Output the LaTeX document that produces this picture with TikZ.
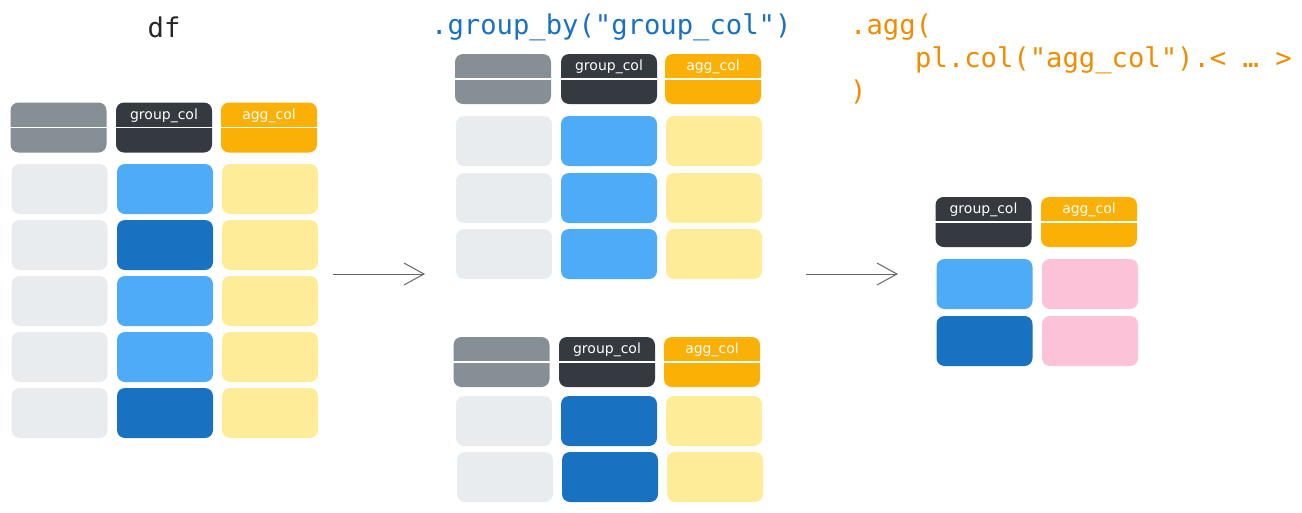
\documentclass[tikz,border=0pt]{standalone}
\usepackage{fontspec}
\setmonofont{DejaVu Sans Mono}
\setsansfont{DejaVu Sans}
\usetikzlibrary{arrows.meta}
\definecolor{hgray}{HTML}{868E96}
\definecolor{hdark}{HTML}{343A40}
\definecolor{horange}{HTML}{FAB005}
\definecolor{clight}{HTML}{E9ECEF}
\definecolor{cblue}{HTML}{4DABF7}
\definecolor{cdblue}{HTML}{1971C2}
\definecolor{cyellow}{HTML}{FFEC99}
\definecolor{cpink}{HTML}{FCC2D7}
\definecolor{tblue}{HTML}{1971C2}
\definecolor{torange}{HTML}{F08C00}
\definecolor{arrowgray}{HTML}{666666}
\tikzset{
  cellbox/.style={draw=none, rounded corners=8pt, inner sep=0pt, minimum width=96pt, minimum height=50pt},
  hdrline/.style={draw=white, line width=1.6pt},
  hdrtext/.style={text=white, font=\sffamily\fontsize{14}{14}\selectfont, inner sep=0pt},
  codetext/.style={font=\ttfamily\fontsize{27.2}{33}\selectfont, inner sep=0pt, anchor=west},
  flow/.style={draw=arrowgray, line width=0.9pt, -{Straight Barb[length=20pt,width=22pt,line width=1pt]}}
}
\newcommand{\hdr}[5]{% name, cx, cy, color, text
  \node[cellbox, fill=#4] (#1) at (#2,#3) {};
  \draw[hdrline] (#1.west) -- (#1.east);
  \node[hdrtext] (#1t) at ([yshift=12pt]#1.center) {#5};
}
\begin{document}
\begin{tikzpicture}[x=1pt,y=-1pt]
\useasboundingbox (0,0) rectangle (1302,512);
% ---------- titles
\node[codetext, anchor=center, text=black!85] (tdf) at (164,27) {df};
\node[codetext, text=tblue] (tgb) at (431,27) {.group\_by("group\_col")};
\node[codetext, text=torange] (tagg1) at (850,27) {.agg(};
\node[codetext, text=torange] (tagg2) at (915,60) {pl.col("agg\_col").<\ …\ >};
\node[codetext, text=torange] (tagg3) at (850,92) {)};
% ---------- df table
\hdr{da}{58.5}{127.5}{hgray}{}
\hdr{db}{164}{127.5}{hdark}{group\_col}
\hdr{dc}{269}{127.5}{horange}{agg\_col}
\foreach \r/\y/\c in {1/189/cblue,2/245/cdblue,3/301/cblue,4/357/cblue,5/413/cdblue}{
  \node[cellbox, fill=clight] (d\r a) at (59.5,\y) {};
  \node[cellbox, fill=\c] (d\r b) at (165,\y) {};
  \node[cellbox, fill=cyellow] (d\r c) at (270,\y) {};
}
% ---------- group 1
\hdr{ga}{503}{79}{hgray}{}
\hdr{gb}{609}{79}{hdark}{group\_col}
\hdr{gc}{713}{79}{horange}{agg\_col}
\foreach \r/\y in {1/141,2/198,3/254}{
  \node[cellbox, fill=clight] (g\r a) at (504,\y) {};
  \node[cellbox, fill=cblue] (g\r b) at (609,\y) {};
  \node[cellbox, fill=cyellow] (g\r c) at (714,\y) {};
}
% ---------- group 2
\hdr{ha}{501.5}{362}{hgray}{}
\hdr{hb}{607}{362}{hdark}{group\_col}
\hdr{hc}{712}{362}{horange}{agg\_col}
\node[cellbox, fill=clight] (h1a) at (504,421) {};
\node[cellbox, fill=cdblue] (h1b) at (609,421) {};
\node[cellbox, fill=cyellow] (h1c) at (714,421) {};
\node[cellbox, fill=clight] (h2a) at (505,477) {};
\node[cellbox, fill=cdblue] (h2b) at (610,477) {};
\node[cellbox, fill=cyellow] (h2c) at (715,477) {};
% ---------- result
\hdr{ra}{983.5}{222}{hdark}{group\_col}
\hdr{rb}{1089}{222}{horange}{agg\_col}
\node[cellbox, fill=cblue] (r1a) at (984.5,284) {};
\node[cellbox, fill=cpink] (r1b) at (1090,284) {};
\node[cellbox, fill=cdblue] (r2a) at (984.5,341) {};
\node[cellbox, fill=cpink] (r2b) at (1090,341) {};
% ---------- arrows
\coordinate (a1s) at (333,274);
\coordinate (a1e) at (425,274);
\coordinate (a2s) at (806,274);
\coordinate (a2e) at (898,274);
\draw[flow] (a1s) -- (a1e);
\draw[flow] (a2s) -- (a2e);
\end{tikzpicture}
\end{document}
